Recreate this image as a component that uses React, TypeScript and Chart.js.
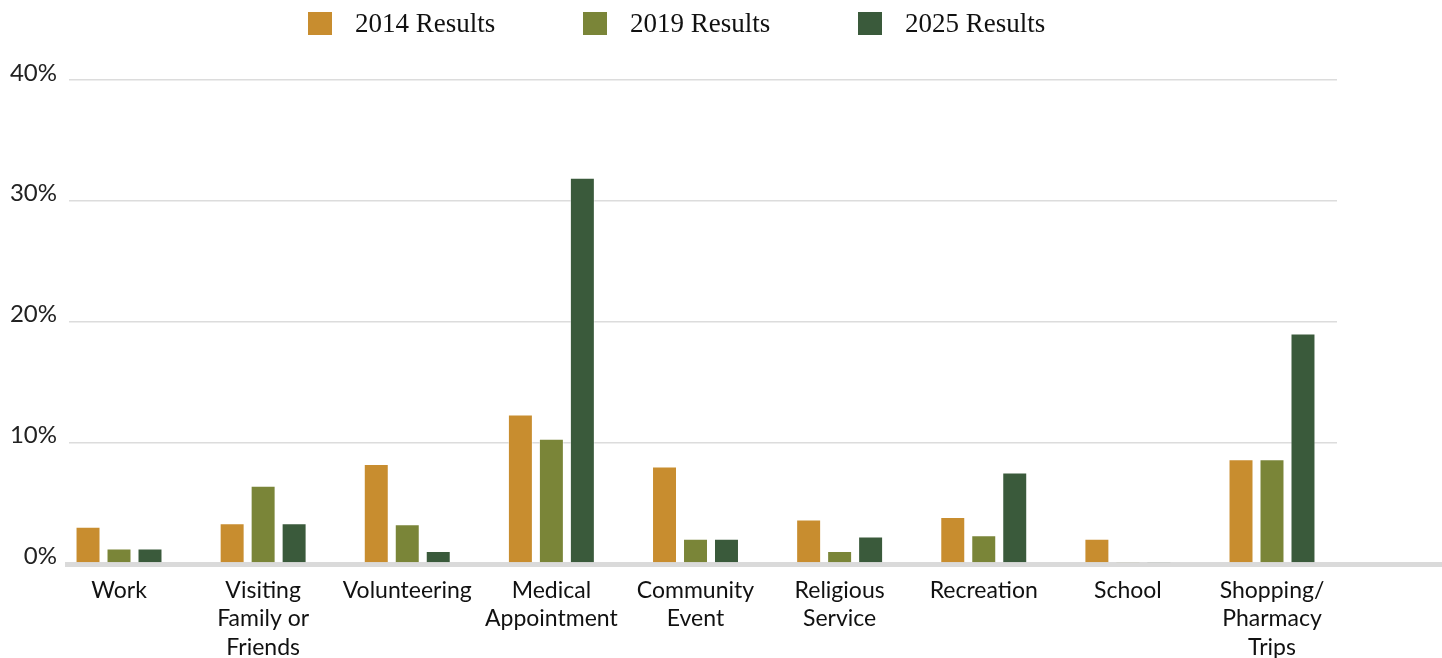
import React, { useEffect, useRef } from "react";
import { Chart, registerables } from "chart.js";

Chart.register(...registerables);

const categoryLabels: string[][] = [
  ["Work"],
  ["Visiting", "Family or", "Friends"],
  ["Volunteering"],
  ["Medical", "Appointment"],
  ["Community", "Event"],
  ["Religious", "Service"],
  ["Recreation"],
  ["School"],
  ["Shopping/", "Pharmacy", "Trips"],
];

const seriesNames = ["2014 Results", "2019 Results", "2025 Results"];
const seriesColors = ["#C88D2F", "#7A8538", "#3A5A3B"];

const results2014 = [3.0, 3.3, 8.2, 12.3, 8.0, 3.6, 3.8, 2.0, 8.6];
const results2019 = [1.2, 6.4, 3.2, 10.3, 2.0, 1.0, 2.3, 0.1, 8.6];
const results2025 = [1.2, 3.3, 1.0, 31.9, 2.0, 2.2, 7.5, 0.1, 19.0];

const yTicks = [0, 10, 20, 30, 40];

const allSeries = [results2014, results2019, results2025];

const baselinePlugin = {
  id: "baselineBand",
  beforeDatasetsDraw(chart: any) {
    const { ctx, chartArea, scales } = chart;
    const y0 = scales.y.getPixelForValue(0);
    ctx.save();
    ctx.fillStyle = "#dadada";
    ctx.fillRect(chartArea.left - 4, y0 - 1, chart.width - (chartArea.left - 4), 5);
    ctx.restore();
  },
};

export default function App() {
  const canvasRef = useRef<HTMLCanvasElement | null>(null);

  useEffect(() => {
    document.body.style.margin = "0";
    document.body.style.overflow = "hidden";
    const canvas = canvasRef.current;
    if (!canvas) return;
    const chart = new Chart(canvas, {
      type: "bar",
      data: {
        datasets: allSeries.map((vals, si) => ({
          label: seriesNames[si],
          data: vals.map((v, i) => ({ x: i, y: v })),
          backgroundColor: seriesColors[si],
          borderColor: "rgba(255,255,255,0.45)",
          borderWidth: 1,
          categoryPercentage: 0.645,
          barPercentage: 0.806,
        })),
      },
      options: {
        responsive: false,
        animation: false,
        events: [],
        layout: { padding: { left: 0, right: 105, top: 80, bottom: 0 } },
        plugins: {
          legend: { display: false },
          tooltip: { enabled: false },
        },
        scales: {
          x: {
            type: "linear",
            min: -0.347,
            max: 8.451,
            offset: false,
            grid: { display: false, offset: false },
            border: { display: false },
            afterBuildTicks: (scale: any) => {
              scale.ticks = categoryLabels.map((_, i) => ({ value: i }));
            },
            afterFit: (scale: any) => {
              scale.height = 95;
            },
            ticks: {
              autoSkip: false,
              maxRotation: 0,
              minRotation: 0,
              padding: 5,
              color: "#111",
              font: { family: "Lato", size: 23, lineHeight: 1.24 },
              callback: (value: any) => {
                const lab = categoryLabels[value as number];
                return lab ? lab : "";
              },
            },
          },
          y: {
            min: 0,
            max: 40,
            afterBuildTicks: (scale: any) => {
              scale.ticks = yTicks.map((v) => ({ value: v }));
            },
            afterFit: (scale: any) => {
              scale.width = 69;
            },
            grid: { color: "#dcdcdc", lineWidth: 1.5, drawTicks: false },
            border: { display: false },
            ticks: {
              padding: 12,
              labelOffset: -7,
              color: "#222",
              font: { family: "Lato", size: 24 },
              callback: (value: any) => value + "%",
            },
          },
        },
      },
      plugins: [baselinePlugin],
    });
    return () => chart.destroy();
  }, []);

  return (
    <div style={{ position: "relative", width: 1442, height: 658 }}>
      <div
        style={{
          position: "absolute",
          top: 11,
          left: 308,
          display: "flex",
          alignItems: "center",
          height: 24,
          fontFamily: "'Liberation Serif', serif",
          fontSize: 27,
          color: "#111",
        }}
      >
        {seriesNames.map((name, i) => (
          <div key={name} style={{ display: "flex", alignItems: "center", width: 275 }}>
            <span
              style={{
                display: "inline-block",
                width: 24,
                height: 23,
                background: seriesColors[i],
                marginRight: 23,
              }}
            />
            <span style={{ lineHeight: "24px", whiteSpace: "nowrap" }}>{name}</span>
          </div>
        ))}
      </div>
      <canvas ref={canvasRef} width={1442} height={658} style={{ display: "block" }} />
    </div>
  );
}
